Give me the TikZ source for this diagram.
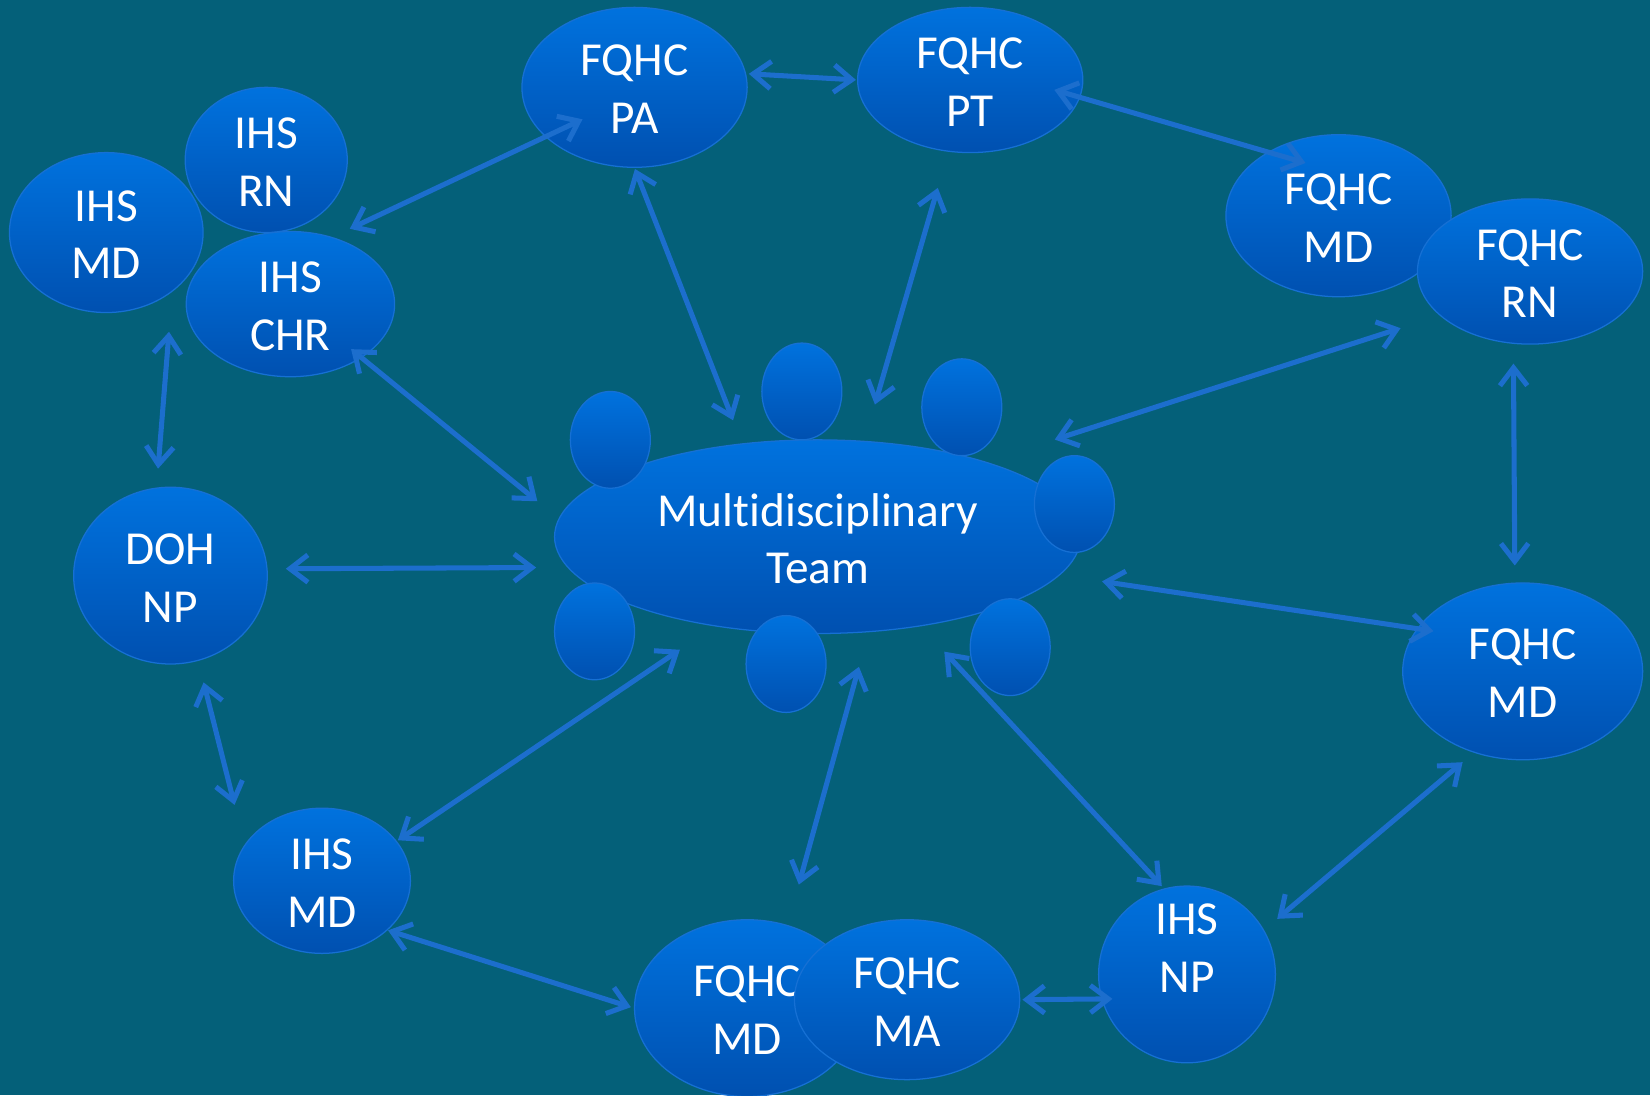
\documentclass[tikz,border=0pt]{standalone}
\usepackage{fontspec}
\setmainfont[Ligatures={NoCommon}]{Carlito}
\usepackage{tikz}
\usetikzlibrary{shapes.geometric,arrows.meta}

\definecolor{bgteal}{RGB}{4,96,121}
\definecolor{blobtop}{RGB}{0,114,222}
\definecolor{blobbot}{RGB}{0,80,176}
\definecolor{blobedge}{RGB}{22,112,212}
\definecolor{linkblue}{RGB}{28,110,205}

\tikzset{
	blob/.style={ellipse,top color=blobtop,bottom color=blobbot,draw=blobedge,line width=1.2pt,inner sep=0pt},
	every label/.style={text=white,align=center,font=\fontsize{45}{55}\selectfont,inner sep=0pt,yshift=-2pt},
	link/.style={{Straight Barb[length=17pt,width=26pt]}-{Straight Barb[length=17pt,width=26pt]},draw=linkblue,line width=4.8pt}
}

\begin{document}
\begin{tikzpicture}[x=1pt,y=-1pt]
		\fill[bgteal] (0,0) rectangle (1568,1041);
		\useasboundingbox (0,0) rectangle (1568,1041);
		\node (pa) at (603,83)[blob,minimum width=214,minimum height=152,label=center:{FQHC\\PA}]{} ;
		\node (pt) at (922,76)[blob,minimum width=214,minimum height=138,label=center:{FQHC\\PT}]{} ;
		\node (ihsrn) at (253,152)[blob,minimum width=154,minimum height=138,label=center:{IHS\\RN}]{} ;
		\node (ihsmd) at (101,221)[blob,minimum width=184,minimum height=152,label=center:{IHS\\MD}]{} ;
		\node (chr) at (276,289)[blob,minimum width=198,minimum height=138,label=center:{IHS\\CHR}]{} ;
		\node (fqmd) at (1272,205)[blob,minimum width=214,minimum height=154,label=center:{FQHC\\MD}]{} ;
		\node (fqrn) at (1454,258)[blob,minimum width=214,minimum height=138,label=center:{FQHC\\RN}]{} ;
		\node (doh) at (162,547)[blob,minimum width=184,minimum height=168,label=center:{DOH\\NP}]{} ;
		\node (team) at (777,510)[blob,minimum width=500,minimum height=184,label=center:{Multidisciplinary\\Team}]{} ;
		\node (seat1) at (580,418)[blob,minimum width=76,minimum height=92]{} ;
		\node (seat2) at (762,372)[blob,minimum width=76,minimum height=92]{} ;
		\node (seat3) at (914,387)[blob,minimum width=76,minimum height=92]{} ;
		\node (seat4) at (1021,479)[blob,minimum width=76,minimum height=92]{} ;
		\node (seat5) at (565,600)[blob,minimum width=76,minimum height=92]{} ;
		\node (seat6) at (747,631)[blob,minimum width=76,minimum height=92]{} ;
		\node (seat7) at (960,615)[blob,minimum width=76,minimum height=92]{} ;
		\node (fqmdr) at (1447,638)[blob,minimum width=228,minimum height=168,label=center:{FQHC\\MD}]{} ;
		\node (ihsmdb) at (306,837)[blob,minimum width=168,minimum height=138,label=center:{IHS\\MD}]{} ;
		\node (fqmdb) at (710,958)[blob,minimum width=214,minimum height=168,label=center:{FQHC\\MD}]{} ;
		\node (fqma) at (862,950)[blob,minimum width=214,minimum height=152,label=center:{FQHC\\MA}]{} ;
		\node (ihsnp) at (1128,926)[blob,minimum width=168,minimum height=168,label={[yshift=27pt]center:{IHS\\NP}}]{} ;

		\draw[link,shorten <=2.6pt,shorten >=1pt] (pa.7) -- (pt.180);
		\draw[link,shorten <=-25.6pt,shorten >=-37.4pt] (pt.-9.4) -- (fqmd.138.8);
		\draw[link,shorten <=18.3pt,shorten >=-39.2pt] (chr.58.1) -- (pa.209.7);
		\draw[link,shorten <=1pt,shorten >=23.5pt] (pa.270) -- (team.129);
		\draw[link,shorten <=35.7pt,shorten >=35.9pt] (pt.253.6) -- (team.64.1);
		\draw[link,shorten <=39pt,shorten >=68.6pt] (fqrn.206.4) -- (team.24.1);
		\draw[link,shorten <=38pt,shorten >=18pt] (ihsmd.-42) -- (doh.99.9);
		\draw[link,shorten <=-13pt,shorten >=26pt] (chr.-37.7) -- (team.176.1);
		\draw[link,shorten <=17.3pt,shorten >=29.7pt] (doh.4.4) -- (team.187.2);
		\draw[link,shorten <=18.7pt,shorten >=16.2pt] (fqrn.257.6) -- (fqmdr.95.5);
		\draw[link,shorten <=40.4pt,shorten >=-15.9pt] (team.-9.2) -- (fqmdr.158.6);
		\draw[link,shorten <=21pt,shorten >=39pt] (doh.-72.3) -- (ihsmdb.155.7);
		\draw[link,shorten <=1.3pt,shorten >=39.7pt] (ihsmdb.28.7) -- (team.221.5);
		\draw[link,shorten <=34pt,shorten >=39.8pt] (team.-62) -- (fqmdb.64.6);
		\draw[link,shorten <=32.8pt,shorten >=3pt] (team.-41.6) -- (ihsnp.105.9);
		\draw[link,shorten <=13.9pt,shorten >=16.3pt] (fqmdr.239.6) -- (ihsnp.30.4);
		\draw[link,shorten <=0.4pt,shorten >=3pt] (ihsmdb.-37.3) -- (fqmdb.180);
		\draw[link,shorten <=2pt,shorten >=-10.5pt] (fqma.0) -- (ihsnp.196.6);
	\end{tikzpicture}
\end{document}
